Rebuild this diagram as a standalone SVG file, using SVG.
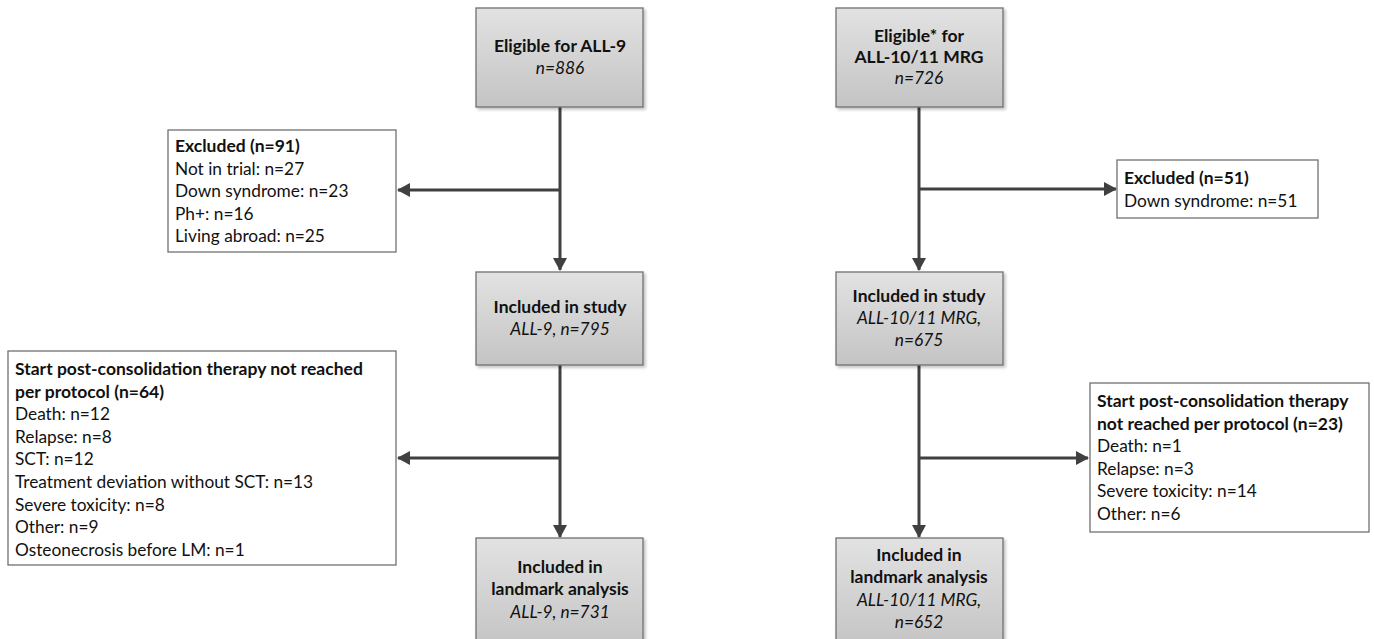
<svg xmlns="http://www.w3.org/2000/svg" width="1374" height="639" viewBox="0 0 1374 639">
<defs>
<linearGradient id="g" x1="0" y1="0" x2="0" y2="1">
<stop offset="0" stop-color="#e2e2e2"/>
<stop offset="1" stop-color="#c4c4c4"/>
</linearGradient>
<filter id="sh" x="-5%" y="-5%" width="115%" height="115%">
<feDropShadow dx="2" dy="2" stdDeviation="1.5" flood-color="#000" flood-opacity="0.25"/>
</filter>
<marker id="ah" markerWidth="16" markerHeight="16" refX="12" refY="7" orient="auto" markerUnits="userSpaceOnUse">
<path d="M0,0 L13,7 L0,14 Z" fill="#404040"/>
</marker>
</defs>
<style>
text{font-family:Lato,"Liberation Sans",sans-serif;font-size:17.3px;fill:#111}
.b{font-weight:bold;font-size:17.5px}
.i{font-style:italic}
.c{text-anchor:middle}
.gb{fill:url(#g);stroke:#707070;stroke-width:1.3;filter:url(#sh)}
.wb{fill:#fff;stroke:#707070;stroke-width:1.3}
.cn{stroke:#404040;stroke-width:3;fill:none}
</style>
<g id="connectors">
<path class="cn" d="M560,107 V270" marker-end="url(#ah)"/>
<path class="cn" d="M560,190 H398" marker-end="url(#ah)"/>
<path class="cn" d="M560,365 V537" marker-end="url(#ah)"/>
<path class="cn" d="M560,458 H398" marker-end="url(#ah)"/>
<path class="cn" d="M919,107 V270" marker-end="url(#ah)"/>
<path class="cn" d="M919,189 H1116" marker-end="url(#ah)"/>
<path class="cn" d="M919,365 V537" marker-end="url(#ah)"/>
<path class="cn" d="M919,458 H1088" marker-end="url(#ah)"/>
</g>
<g id="a1">
<rect class="gb" x="476" y="8" width="167" height="99"/>
<text class="c b" x="560" y="52">Eligible for ALL-9</text>
<text class="c i" x="560" y="74">n=886</text>
</g>
<g id="b1">
<rect class="gb" x="836" y="8" width="167" height="99"/>
<text class="c b" x="919" y="42">Eligible* for</text>
<text class="c b" x="919" y="63">ALL-10/11 MRG</text>
<text class="c i" x="919" y="84">n=726</text>
</g>
<g id="exA">
<rect class="wb" x="168" y="130" width="228" height="122"/>
<text class="b" x="175" y="152">Excluded (n=91)</text>
<text x="175" y="174.5">Not in trial: n=27</text>
<text x="175" y="197">Down syndrome: n=23</text>
<text x="175" y="219.5">Ph+: n=16</text>
<text x="175" y="242">Living abroad: n=25</text>
</g>
<g id="exB">
<rect class="wb" x="1117" y="160" width="201" height="58"/>
<text class="b" x="1124" y="184">Excluded (n=51)</text>
<text x="1124" y="207">Down syndrome: n=51</text>
</g>
<g id="a2">
<rect class="gb" x="476" y="272" width="167" height="93"/>
<text class="c b" x="560" y="313">Included in study</text>
<text class="c i" x="560" y="335">ALL-9, n=795</text>
</g>
<g id="b2">
<rect class="gb" x="836" y="272" width="167" height="93"/>
<text class="c b" x="919" y="302">Included in study</text>
<text class="c i" x="919" y="324">ALL-10/11 MRG,</text>
<text class="c i" x="919" y="346">n=675</text>
</g>
<g id="pcA">
<rect class="wb" x="8" y="351" width="388" height="214"/>
<text class="b" x="15" y="375">Start post-consolidation therapy not reached</text>
<text class="b" x="15" y="397.6">per protocol (n=64)</text>
<text x="15" y="420.2">Death: n=12</text>
<text x="15" y="442.8">Relapse: n=8</text>
<text x="15" y="465.4">SCT: n=12</text>
<text x="15" y="488">Treatment deviation without SCT: n=13</text>
<text x="15" y="510.6">Severe toxicity: n=8</text>
<text x="15" y="533.2">Other: n=9</text>
<text x="15" y="555.8">Osteonecrosis before LM: n=1</text>
</g>
<g id="pcB">
<rect class="wb" x="1090" y="383" width="279" height="149"/>
<text class="b" x="1097" y="407">Start post-consolidation therapy</text>
<text class="b" x="1097" y="429.6">not reached per protocol (n=23)</text>
<text x="1097" y="452.2">Death: n=1</text>
<text x="1097" y="474.8">Relapse: n=3</text>
<text x="1097" y="497.4">Severe toxicity: n=14</text>
<text x="1097" y="520">Other: n=6</text>
</g>
<g id="a3">
<rect class="gb" x="476" y="538" width="167" height="110"/>
<text class="c b" x="560" y="573">Included in</text>
<text class="c b" x="560" y="595">landmark analysis</text>
<text class="c i" x="560" y="618">ALL-9, n=731</text>
</g>
<g id="b3">
<rect class="gb" x="836" y="538" width="167" height="110"/>
<text class="c b" x="919" y="561">Included in</text>
<text class="c b" x="919" y="583">landmark analysis</text>
<text class="c i" x="919" y="606">ALL-10/11 MRG,</text>
<text class="c i" x="919" y="628">n=652</text>
</g>
</svg>
